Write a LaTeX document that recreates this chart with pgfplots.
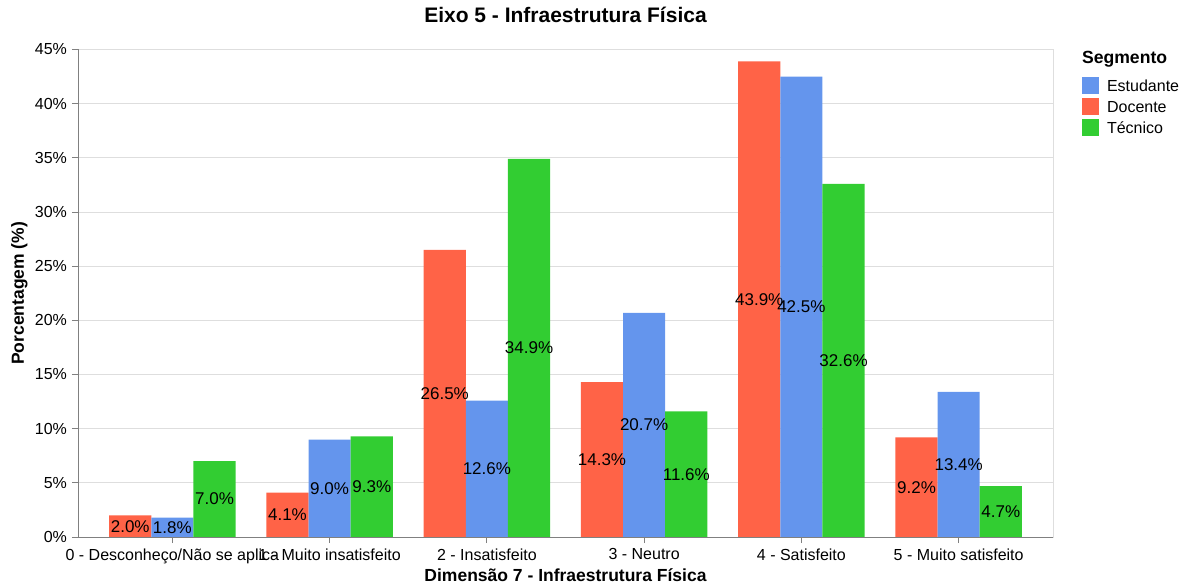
\documentclass[border=0pt]{standalone}
\usepackage{pgfplots}
\pgfplotsset{compat=1.18}
\usepackage{pgfplotstable}
\usepackage{fontspec}
\setmainfont{Liberation Sans}
\definecolor{doc}{HTML}{FF6347}
\definecolor{est}{HTML}{6495ED}
\definecolor{tec}{HTML}{32CD32}
\pgfplotstableread{
x d e t
0 2.0 1.8 7.0
1 4.1 9.0 9.3
2 26.5 12.6 34.9
3 14.3 20.7 11.6
4 43.9 42.5 32.6
5 9.2 13.4 4.7
}\data
\begin{document}
\begin{tikzpicture}
\path[use as bounding box] (0,0) rectangle (1182pt,587pt);
\begin{axis}[
  at={(78pt,50pt)}, anchor=south west,
  width=975pt, height=487.5pt, scale only axis,
  xmin=-0.6, xmax=5.6, ymin=0, ymax=45,
  xtick={0,1,2,3,4,5},
  xticklabels={0 - Desconheço/Não se aplica, 1 - Muito insatisfeito, 2 - Insatisfeito, 3 - Neutro, 4 - Satisfeito, 5 - Muito satisfeito},
  ytick={0,5,...,45},
  yticklabel={\pgfmathprintnumber{\tick}\%},
  /pgf/number format/assume math mode=true,
  ymajorgrids, grid style={draw=black!13, line width=1pt},
  axis line style={draw=black!13, line width=1pt},
  tick style={draw=black!50, line width=1pt},
  tick align=outside, major tick length=6pt,
  xtick pos=left, ytick pos=left,
  ticklabel style={font=\fontsize{16}{19}\selectfont},
  xticklabel style={yshift=-2pt},
  yticklabel style={xshift=-1.5pt},
  title={Eixo 5 - Infraestrutura Física},
  title style={at={(axis description cs:0.5,1.0441)}, anchor=base, font=\fontsize{21}{25}\selectfont\bfseries},
  xlabel={Dimensão 7 - Infraestrutura Física},
  xlabel style={at={(axis description cs:0.5,-0.0917)}, anchor=base, font=\fontsize{17.5}{21}\selectfont\bfseries},
  ylabel={Porcentagem (\%)},
  ylabel style={at={(axis description cs:-0.0554,0.5)}, anchor=base, font=\fontsize{17.5}{21}\selectfont\bfseries},
  legend style={at={(axis description cs:1.0297,0.9924)}, anchor=north west, draw=none, fill=none,
    font=\fontsize{16}{19}\selectfont, inner sep=0pt, row sep=0pt,
    nodes={inner sep=2.5pt, text height=12pt, text depth=4pt}},
  legend cell align=left,
  nodes near coords style={anchor=center, font=\fontsize{17}{20}\selectfont},
]
\addlegendimage{empty legend}
\addlegendentry{\hspace*{-19pt}\raisebox{4.7pt}{\fontsize{17.6}{20}\selectfont\bfseries Segmento}}
\addlegendimage{legend image code/.code={\fill[est] (0pt,-8pt) rectangle (16pt,8pt);}}
\addlegendentry{\hspace*{6pt}\raisebox{-2.5pt}{Estudante}}
\addlegendimage{legend image code/.code={\fill[doc] (0pt,-8pt) rectangle (16pt,8pt);}}
\addlegendentry{\hspace*{6pt}\raisebox{-2.5pt}{Docente}}
\addlegendimage{legend image code/.code={\fill[tec] (0pt,-8pt) rectangle (16pt,8pt);}}
\addlegendentry{\hspace*{6pt}\raisebox{-2.5pt}{Técnico}}

\addplot[forget plot, ybar, bar width=0.268, bar shift=0pt, fill=doc, draw=none] table[x expr=\thisrow{x}-0.268, y=d]{\data};
\addplot[forget plot, ybar, bar width=0.268, bar shift=0pt, fill=est, draw=none] table[x=x, y=e]{\data};
\addplot[forget plot, ybar, bar width=0.268, bar shift=0pt, fill=tec, draw=none] table[x expr=\thisrow{x}+0.268, y=t]{\data};

\addplot[forget plot, only marks, mark=none, nodes near coords={\pgfmathprintnumber[fixed, fixed zerofill, precision=1]{\pgfplotspointmeta}\%}, point meta=explicit] table[x expr=\thisrow{x}-0.268, y expr=\thisrow{d}/2, meta=d]{\data};
\addplot[forget plot, only marks, mark=none, nodes near coords={\pgfmathprintnumber[fixed, fixed zerofill, precision=1]{\pgfplotspointmeta}\%}, point meta=explicit] table[x=x, y expr=\thisrow{e}/2, meta=e]{\data};
\addplot[forget plot, only marks, mark=none, nodes near coords={\pgfmathprintnumber[fixed, fixed zerofill, precision=1]{\pgfplotspointmeta}\%}, point meta=explicit] table[x expr=\thisrow{x}+0.268, y expr=\thisrow{t}/2, meta=t]{\data};

\draw[black!50, line width=1pt] (rel axis cs:0,1) -- (rel axis cs:0,0) -- (rel axis cs:1,0);
\end{axis}
\end{tikzpicture}
\end{document}
